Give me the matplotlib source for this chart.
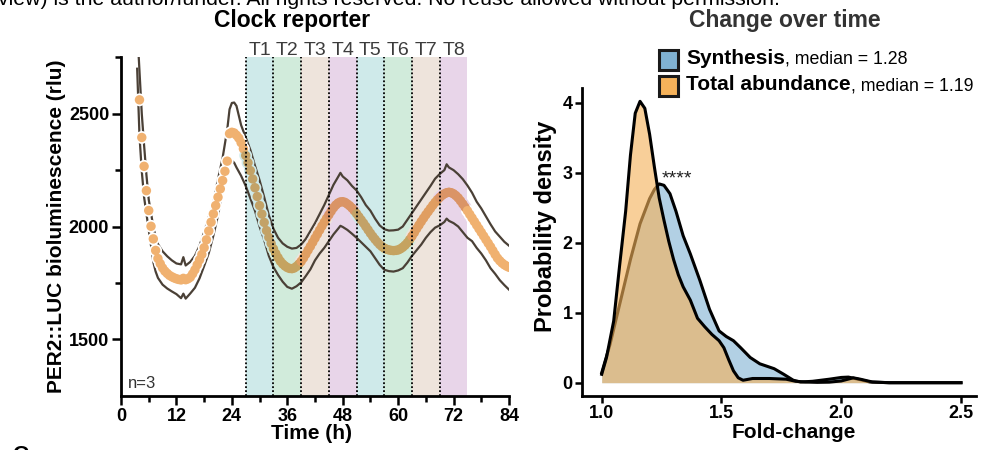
import matplotlib
matplotlib.use("Agg")
import matplotlib.pyplot as plt
import matplotlib.colors as mcolors
from matplotlib.patches import Rectangle
from matplotlib.ticker import FormatStrFormatter
import numpy as np

plt.rcParams['font.family'] = ['Liberation Sans', 'DejaVu Sans']

# --- Panel izquierdo: reportero del reloj (PER2::LUC), muestras cada 30 min
tiempo_medio = np.arange(4.0, 84.25, 0.5)
lum_media = [
    2562, 2395, 2267, 2159, 2071, 2001, 1945, 1894, 1858, 1835,
    1816, 1802, 1792, 1783, 1777, 1772, 1768, 1765, 1763, 1770,
    1764, 1768, 1775, 1790, 1808, 1830, 1852, 1876, 1906, 1941,
    1980, 2019, 2056, 2093, 2130, 2167, 2204, 2245, 2290, 2412,
    2418, 2415, 2405, 2392, 2372, 2345, 2315, 2283, 2248, 2211,
    2172, 2133, 2093, 2055, 2018, 1982, 1952, 1925, 1901, 1880,
    1862, 1846, 1834, 1825, 1818, 1814, 1813, 1816, 1823, 1833,
    1845, 1860, 1877, 1895, 1912, 1930, 1948, 1966, 1984, 2002,
    2019, 2036, 2052, 2068, 2083, 2095, 2104, 2109, 2110, 2107,
    2100, 2092, 2082, 2070, 2057, 2043, 2029, 2015, 2000, 1985,
    1970, 1956, 1943, 1931, 1920, 1911, 1904, 1899, 1896, 1894,
    1893, 1894, 1896, 1901, 1908, 1917, 1928, 1942, 1957, 1973,
    1990, 2006, 2022, 2037, 2052, 2066, 2080, 2094, 2107, 2119,
    2129, 2138, 2145, 2150, 2152, 2150, 2145, 2137, 2127, 2114,
    2100, 2085, 2070, 2054, 2038, 2022, 2006, 1990, 1974, 1958,
    1942, 1926, 1910, 1893, 1876, 1860, 1848, 1838, 1830, 1824,
    1819,
]

# envolvente (media +/- desviacion)
tiempo_env = [
    3.5, 4.0, 4.5, 5.0, 5.5, 6.0, 6.5, 7.0, 7.5, 8.0,
    9, 10, 11, 12, 13, 13.5, 14, 15, 16, 17,
    18, 19, 20, 21, 22, 23, 23.5, 24, 24.5, 25,
    26, 27, 28, 29, 30, 31, 32, 33, 34, 35,
    36, 37, 38, 39, 40, 41, 42, 43, 44, 45,
    46, 47, 47.5, 48, 49, 50, 51, 52, 53, 54,
    55, 56, 57, 58, 59, 60, 61, 62, 63, 64,
    65, 66, 67, 68, 69, 70, 70.5, 71, 72, 73,
    74, 75, 76, 77, 78, 79, 80, 81, 82, 83, 84,
]
env_sup = [
    2880, 2690, 2500, 2360, 2230, 2120, 2060, 1997, 1955, 1922,
    1890, 1868, 1850, 1836, 1832, 1864, 1827, 1843, 1870, 1915,
    1975, 2042, 2112, 2210, 2305, 2430, 2520, 2548, 2550, 2535,
    2450, 2395, 2340, 2270, 2205, 2130, 2050, 1990, 1950, 1925,
    1910, 1902, 1905, 1920, 1945, 1980, 2015, 2055, 2095, 2140,
    2185, 2220, 2238, 2222, 2205, 2180, 2160, 2130, 2095, 2070,
    2035, 2005, 1988, 1982, 1983, 1986, 2000, 2030, 2060, 2090,
    2120, 2150, 2180, 2212, 2233, 2250, 2276, 2262, 2250, 2232,
    2210, 2182, 2150, 2110, 2080, 2045, 2010, 1978, 1955, 1932, 1915,
]
env_inf = [
    2700, 2403, 2245, 2130, 2058, 1985, 1915, 1842, 1800, 1772,
    1742, 1725, 1712, 1700, 1682, 1702, 1680, 1703, 1728, 1770,
    1825, 1882, 1960, 2050, 2158, 2255, 2280, 2292, 2283, 2262,
    2225, 2180, 2125, 2070, 2000, 1940, 1870, 1820, 1785, 1755,
    1732, 1724, 1735, 1752, 1780, 1810, 1850, 1880, 1905, 1935,
    1965, 1990, 2003, 1998, 1985, 1968, 1950, 1930, 1910, 1890,
    1860, 1830, 1808, 1802, 1800, 1805, 1815, 1840, 1870, 1895,
    1920, 1950, 1975, 1995, 2005, 2020, 2035, 2025, 2015, 2000,
    1975, 1950, 1935, 1905, 1880, 1850, 1815, 1790, 1762, 1740, 1720,
]

# ventanas de muestreo T1..T8 (6 h cada una)
inicio_ventanas = [27, 33, 39, 45, 51, 57, 63, 69]
ancho_ventana = 6
etiquetas_ventanas = ["T1", "T2", "T3", "T4", "T5", "T6", "T7", "T8"]
colores_ventanas = ["#CFEAEA", "#D1EBDB", "#EEE4DC", "#E8D5E9"]

# --- Panel derecho: densidad del cambio
fold_sint = [1.00, 1.035, 1.075, 1.12, 1.16, 1.20, 1.22, 1.24, 1.26, 1.285,
             1.31, 1.34, 1.37, 1.41, 1.45, 1.49, 1.52, 1.55, 1.58, 1.62,
             1.66, 1.72, 1.76, 1.80, 1.83, 1.88, 1.95, 2.00, 2.03, 2.07,
             2.12, 2.20, 2.50]
dens_sint = [0.14, 0.55, 1.12, 1.76, 2.27, 2.63, 2.76, 2.84, 2.82, 2.70,
             2.45, 2.10, 1.84, 1.46, 1.05, 0.74, 0.66, 0.60, 0.50, 0.36,
             0.27, 0.20, 0.12, 0.035, 0.01, 0.02, 0.05, 0.075, 0.08, 0.05,
             0.01, 0.0, 0.0]
fold_total = [1.00, 1.02, 1.05, 1.075, 1.10, 1.12, 1.14, 1.16, 1.18, 1.20,
              1.22, 1.24, 1.26, 1.28, 1.30, 1.32, 1.34, 1.37, 1.40, 1.43,
              1.46, 1.49, 1.51, 1.53, 1.55, 1.57, 1.59, 1.63, 1.70, 1.77,
              1.81, 1.85, 1.90, 1.95, 2.00, 2.05, 2.08, 2.13, 2.20, 2.50]
dens_total = [0.12, 0.36, 0.88, 1.68, 2.45, 3.25, 3.85, 4.02, 3.92, 3.55,
              3.08, 2.64, 2.32, 2.02, 1.76, 1.54, 1.37, 1.18, 0.92, 0.80,
              0.69, 0.60, 0.50, 0.33, 0.17, 0.07, 0.035, 0.06, 0.06, 0.05,
              0.02, 0.01, 0.005, 0.008, 0.025, 0.07, 0.05, 0.01, 0.0, 0.0]
mediana_sint = 1.28
mediana_total = 1.19

naranja = "#F0B170"
gris_linea = "#4A4036"
azul = "#80B2D2"
naranja_kde = "#F5B25A"


def color_fondo(t):
    for i, s in enumerate(inicio_ventanas):
        if s <= t < s + ancho_ventana:
            return colores_ventanas[i % 4]
    return "#FFFFFF"


fig = plt.figure(figsize=(9.87, 4.5), dpi=100)
W, H = 987.0, 450.0
ax1 = fig.add_axes([121 / W, 1 - 396 / H, 388 / W, 339 / H])
ax2 = fig.add_axes([581.7 / W, 1 - 396 / H, 394.3 / W, 307.7 / H])

# ventanas sombreadas
for i, s in enumerate(inicio_ventanas):
    ax1.axvspan(s, s + ancho_ventana, color=colores_ventanas[i % 4], lw=0, zorder=0)
    ax1.axvline(s, color="black", ls=(0, (1, 1.2)), lw=1.3, zorder=6)
    ax1.text(s + ancho_ventana / 2, 1.006, etiquetas_ventanas[i], transform=ax1.get_xaxis_transform(),
             ha="center", va="baseline", fontsize=14, color="#3c3c3c")

ax1.plot(tiempo_env, env_sup, color=gris_linea, lw=1.6, zorder=2)
ax1.plot(tiempo_env, env_inf, color=gris_linea, lw=1.6, zorder=2)

fondos = [color_fondo(t) for t in tiempo_medio]
# color de cada punto = naranja multiplicado por el fondo
c_nar = np.array(mcolors.to_rgb(naranja))
colores_puntos = [tuple(c_nar * np.array(mcolors.to_rgb(f))) for f in fondos]
ax1.scatter(tiempo_medio, lum_media, s=85, c=fondos, lw=0, zorder=3)
ax1.scatter(tiempo_medio, lum_media, s=46, c=colores_puntos, lw=0, zorder=4)

ax1.set_xlim(0, 84)
ax1.set_ylim(1248, 2752)
ax1.set_xticks(range(0, 85, 12))
ax1.set_xticks(range(6, 84, 12), minor=True)
ax1.set_yticks([1500, 2000, 2500])
ax1.set_yticks([1750, 2250, 2750], minor=True)
for lado in ["top", "right"]:
    ax1.spines[lado].set_visible(False)
for lado in ["left", "bottom"]:
    ax1.spines[lado].set_linewidth(2)
    ax1.spines[lado].set_zorder(7)
ax1.tick_params(which="major", length=6.5, width=1.8, labelsize=13, pad=2)
ax1.tick_params(which="minor", length=4, width=1.8)
plt.setp(ax1.get_xticklabels() + ax1.get_yticklabels(), fontweight="bold")
ax1.set_xlabel("Time (h)", fontsize=15, fontweight="bold")
ax1.xaxis.set_label_coords(0.492, -0.083)
ax1.set_ylabel("PER2::LUC bioluminescence (rlu)", fontsize=15, fontweight="bold")
ax1.yaxis.set_label_coords(-0.142, 0.5)
ax1.text(0.018, 0.024, "n=3", transform=ax1.transAxes, fontsize=12, color="#333333", va="baseline")

# --- densidades
ax2.fill_between(fold_sint, 0, dens_sint, color=azul, alpha=0.6, lw=0, zorder=1)
ax2.plot(fold_sint, dens_sint, color="black", lw=2.2, zorder=2, solid_joinstyle="round")
ax2.fill_between(fold_total, 0, dens_total, color=naranja_kde, alpha=0.62, lw=0, zorder=3)
ax2.plot(fold_total, dens_total, color="black", lw=2.2, zorder=4, solid_joinstyle="round")
ax2.text(1.25, 2.85, "****", fontsize=14, ha="left", va="baseline", color="#222222")

ax2.set_xlim(0.9165, 2.5626)
ax2.set_ylim(-0.19, 4.206)
ax2.set_xticks([1.0, 1.5, 2.0, 2.5])
ax2.set_yticks([0, 1, 2, 3, 4])
ax2.xaxis.set_major_formatter(FormatStrFormatter("%.1f"))
for lado in ["top", "right"]:
    ax2.spines[lado].set_visible(False)
for lado in ["left", "bottom"]:
    ax2.spines[lado].set_linewidth(2)
ax2.tick_params(which="major", length=5, width=1.8, labelsize=13, pad=1.5)
plt.setp(ax2.get_xticklabels() + ax2.get_yticklabels(), fontweight="bold")
ax2.set_xlabel("Fold-change", fontsize=15, fontweight="bold")
ax2.xaxis.set_label_coords(0.538, -0.088)
ax2.set_ylabel("Probability density", fontsize=17, fontweight="bold")
ax2.yaxis.set_label_coords(-0.063, 0.552)

# leyenda hecha a mano
for y0, col in [(50, azul), (76, naranja_kde)]:
    fig.patches.append(Rectangle((658.5 / W, 1 - (y0 + 19.5) / H), 19.5 / W, 19.5 / H,
                                 transform=fig.transFigure, facecolor=col,
                                 edgecolor="#1a1a1a", lw=2.2, zorder=5))
t_a = fig.text(686 / W, 1 - 64 / H, "Synthesis", fontsize=15, fontweight="bold", va="baseline")
t_b = fig.text(686 / W, 1 - 90.5 / H, "Total abundance", fontsize=15, fontweight="bold", va="baseline")
fig.canvas.draw()
for t_obj, med in [(t_a, mediana_sint), (t_b, mediana_total)]:
    bb = t_obj.get_window_extent()
    fig.text(bb.x1 / W, t_obj.get_position()[1], f", median = {med:.2f}", fontsize=12.8, va="baseline")

# titulos
fig.text(292 / W, 1 - 20 / H, "Clock reporter", ha="center", va="center", fontsize=16.5, fontweight="bold")
fig.text(785 / W, 1 - 20 / H, "Change over time", ha="center", va="center", fontsize=16.5,
         fontweight="bold", color="#333333")
fig.text(-0.002, 1 - 5 / H, "view) is the author/funder. All rights reserved. No reuse allowed without permission.",
         fontsize=15.3, va="baseline", ha="left")
fig.text(12 / W, -11 / H, "C", fontsize=16, fontweight="bold", va="baseline")

fig.savefig("out.png", dpi=100)
